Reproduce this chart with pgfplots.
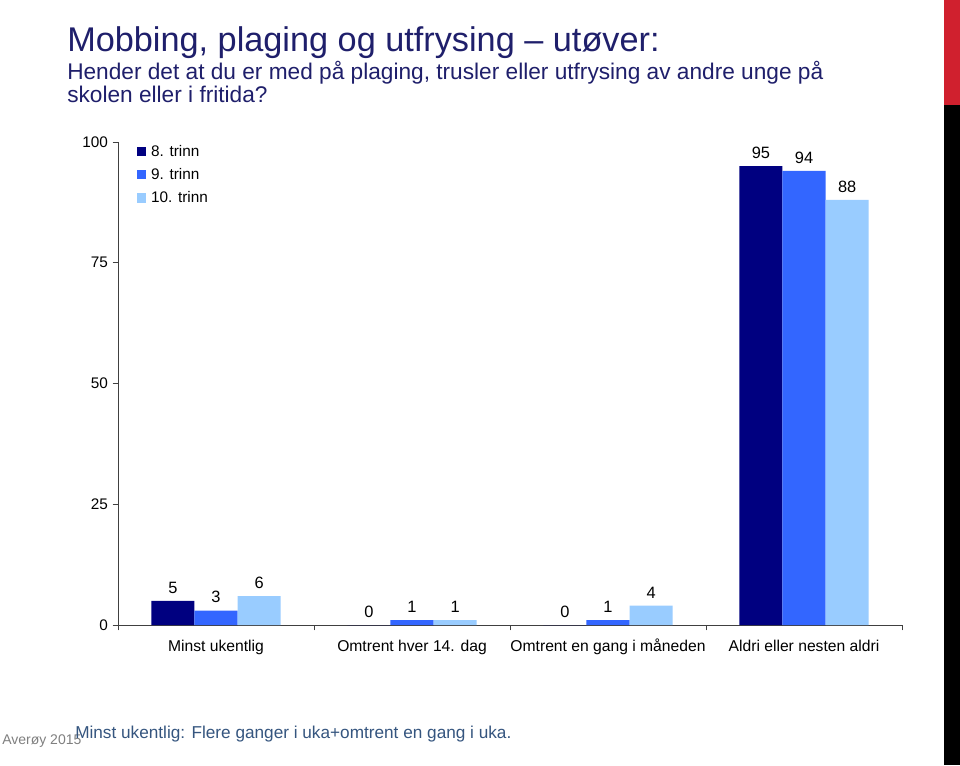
\documentclass[border=0pt]{standalone}
\usepackage{pgfplots}
\pgfplotsset{compat=1.18}
\usepackage{fontspec}
\setmainfont{Liberation Sans}
\definecolor{c8}{HTML}{000080}
\definecolor{c9}{HTML}{3366FF}
\definecolor{c10}{HTML}{99CCFF}
\definecolor{titleblue}{HTML}{1F1F6B}
\definecolor{footblue}{HTML}{35557F}
\definecolor{deco}{HTML}{D0202E}
\newcommand\px[2]{({#1*0.75pt},{#2*0.75pt})}
\begin{document}
\begin{tikzpicture}
\path[use as bounding box] \px{0}{0} rectangle \px{960}{765};
\fill[white] \px{0}{0} rectangle \px{960}{765};
\fill[black] \px{944}{0} rectangle \px{960}{660};
\fill[deco] \px{944}{660} rectangle \px{960}{765};
\node[anchor=base west, font=\fontsize{25.7}{30}\selectfont, text=titleblue, inner sep=0pt] at \px{67}{713} {Mobbing, plaging og utfrysing – utøver:};
\node[anchor=base west, font=\fontsize{17}{20}\selectfont, text=titleblue, inner sep=0pt] at \px{67}{685} {Hender det at du er med på plaging, trusler eller utfrysing av andre unge på};
\node[anchor=base west, font=\fontsize{17}{20}\selectfont, text=titleblue, inner sep=0pt] at \px{67}{662} {skolen eller i fritida?};
\node[anchor=base west, font=\fontsize{10.5}{12}\selectfont, text=gray, inner sep=0pt] at \px{2}{21} {Averøy 2015};
\node[anchor=base west, font=\fontsize{12.9}{15}\selectfont, text=footblue, inner sep=0pt] at \px{75}{27} {Minst ukentlig: Flere ganger i uka+omtrent en gang i uka.};
\begin{axis}[
  at={(88.5pt,105pt)}, anchor=south west, scale only axis,
  width=588pt, height=362.25pt,
  xmin=-0.5, xmax=3.5, ymin=0, ymax=100,
  axis x line=bottom, axis y line=left,
  axis line style={-, black!75, line width=0.6pt},
  ytick={0,25,50,75,100},
  xtick={0,1,2,3},
  xticklabels={Minst ukentlig, Omtrent hver 14. dag, Omtrent en gang i måneden, Aldri eller nesten aldri},
  minor xtick={-0.5,0.5,1.5,2.5,3.5},
  major x tick style={draw=none},
  tick align=outside, major tick length=4pt, minor tick length=4pt,
  every tick/.style={black!75, line width=0.6pt},
  tick label style={font=\fontsize{11.5}{13}\selectfont},
  xticklabel style={font=\fontsize{11.75}{13}\selectfont, text height=1.6ex, text depth=0.4ex, yshift=-4pt},
  /pgf/number format/assume math mode=true,
  legend style={at={(rel axis cs:0.024,1.0)}, anchor=north west, draw=none, fill=none,
    font=\fontsize{11.5}{13}\selectfont, row sep=3.6pt, inner sep=0pt,
    legend cell align=left},
  sq/.style={legend image code/.code={\fill[##1,draw=none] (0pt,-3.4pt) rectangle (6.8pt,3.4pt); \path (8.5pt,0pt);}},
  lab/.style={nodes near coords, every node near coord/.append style={font=\fontsize{12.3}{14}\selectfont, text=black, yshift=2pt}},
]
\addplot[ybar, fill=c8, draw=none, bar width=0.22, bar shift=0, lab, sq] coordinates {(-0.22,5) (0.78,0) (1.78,0) (2.78,95)};
\addplot[ybar, fill=c9, draw=none, bar width=0.22, bar shift=0, lab, sq] coordinates {(0,3) (1,1) (2,1) (3,94)};
\addplot[ybar, fill=c10, draw=none, bar width=0.22, bar shift=0, lab, sq] coordinates {(0.22,6) (1.22,1) (2.22,4) (3.22,88)};
\legend{8. trinn, 9. trinn, 10. trinn}
\end{axis}
\end{tikzpicture}
\end{document}
